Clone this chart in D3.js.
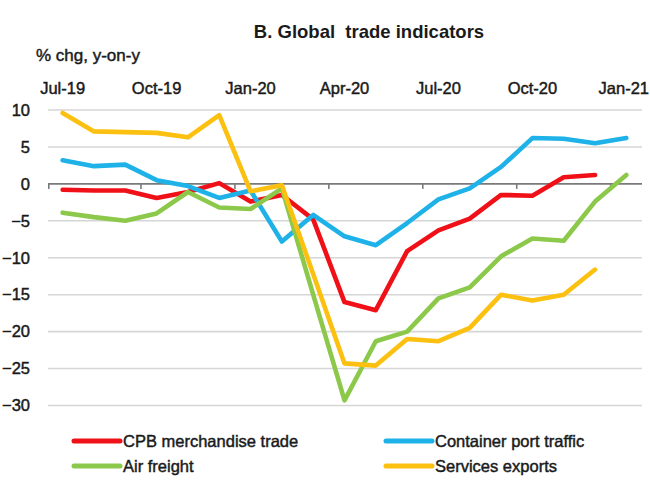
<!DOCTYPE html>
<html>
<head>
<meta charset="utf-8">
<script src="https://cdn.jsdelivr.net/npm/d3@7"></script>
<style>
  body { margin: 0; background: #fff; }
  text { font-family: "Liberation Sans", Arial, sans-serif; fill: #1a1a1a; }
</style>
</head>
<body>
<div id="chart"></div>
<script>
// months shown on the x axis (monthly data)
const months = ["Jul-19", "Aug-19", "Sep-19", "Oct-19", "Nov-19", "Dec-19", "Jan-20", "Feb-20", "Mar-20",
  "Apr-20", "May-20", "Jun-20", "Jul-20", "Aug-20", "Sep-20", "Oct-20", "Nov-20", "Dec-20", "Jan-21"];
const monthLabels = ["Jul-19", "Oct-19", "Jan-20", "Apr-20", "Jul-20", "Oct-20", "Jan-21"];
const yTicks = [10, 5, 0, -5, -10, -15, -20, -25, -30];

// % chg, y-on-y (null = no data yet)
const cpbTrade = [-0.8, -0.9, -0.9, -1.9, -1.1, 0.1, -2.4, -1.5, -4.8, -16.0, -17.1, -9.1, -6.3, -4.7, -1.5, -1.6, 0.9, 1.2, null];
const portTraffic = [3.2, 2.4, 2.6, 0.5, -0.3, -1.9, -0.9, -7.8, -4.2, -7.1, -8.3, -5.3, -2.1, -0.6, 2.3, 6.2, 6.1, 5.5, 6.2];
const airFreight = [-3.9, -4.5, -5.0, -4.0, -1.1, -3.2, -3.4, -0.6, -15.0, -29.3, -21.3, -20.0, -15.5, -14.0, -9.8, -7.4, -7.7, -2.4, 1.2];
const servicesExports = [9.6, 7.1, 7.0, 6.9, 6.3, 9.3, -1.0, -0.2, -12.2, -24.3, -24.6, -21.0, -21.3, -19.5, -15.0, -15.8, -15.0, -11.6, null];

const seriesNames = ["CPB merchandise trade", "Container port traffic", "Air freight", "Services exports"];
const seriesValues = [cpbTrade, portTraffic, airFreight, servicesExports];
const seriesColors = ["#f01018", "#1eb2e8", "#8cc84a", "#fcc010"];

const width = 650, height = 499;
const margin = { top: 110, right: 8, bottom: 93.5, left: 48 };

const svg = d3.select("#chart").append("svg")
  .attr("width", width)
  .attr("height", height);

const x = d3.scaleBand()
  .domain(months)
  .range([margin.left - 1, width - margin.right]);

const y = d3.scaleLinear()
  .domain([-30, 10])
  .range([height - margin.bottom, margin.top]);

// title and unit label
svg.append("text")
  .attr("x", 369)
  .attr("y", 37.5)
  .attr("text-anchor", "middle")
  .style("font-size", "18.5px")
  .style("font-weight", "bold")
  .attr("xml:space", "preserve")
  .text("B. Global  trade indicators");

svg.append("text")
  .attr("x", 36)
  .attr("y", 60.5)
  .style("font-size", "17px")
  .style("stroke", "#1a1a1a")
  .style("stroke-width", "0.45px")
  .text("% chg, y-on-y");

// gridlines
svg.append("g")
  .selectAll("line")
  .data(yTicks.filter(d => d !== 0))
  .enter()
  .append("line")
  .attr("x1", margin.left)
  .attr("x2", width - margin.right)
  .attr("y1", d => y(d))
  .attr("y2", d => y(d))
  .attr("stroke", "#d6d6d6")
  .attr("stroke-width", 1.6);

// zero line with quarterly tick marks
svg.append("line")
  .attr("x1", margin.left)
  .attr("x2", width - margin.right)
  .attr("y1", y(0))
  .attr("y2", y(0))
  .attr("stroke", "#7a7a7a")
  .attr("stroke-width", 1.6);

svg.append("g")
  .selectAll("line")
  .data(monthLabels)
  .enter()
  .append("line")
  .attr("x1", d => Math.max(x(d), margin.left + 0.8))
  .attr("x2", d => Math.max(x(d), margin.left + 0.8))
  .attr("y1", y(0))
  .attr("y2", y(0) + 5)
  .attr("stroke", "#7a7a7a")
  .attr("stroke-width", 1.6);

// y axis labels
const yAxis = svg.append("g")
  .attr("transform", `translate(${margin.left},0)`)
  .call(d3.axisLeft(y).tickValues(yTicks).tickSize(0).tickPadding(18).tickFormat(d3.format("d")));
yAxis.select(".domain").remove();
yAxis.selectAll("text")
  .style("font-family", "'Liberation Sans', Arial, sans-serif")
  .style("font-size", "16.5px")
  .style("fill", "#1a1a1a")
  .style("stroke", "#1a1a1a")
  .style("stroke-width", "0.45px");

// month labels above the plot
const xAxis = svg.append("g")
  .attr("transform", "translate(0,94)")
  .call(d3.axisTop(x).tickValues(monthLabels).tickSize(0).tickPadding(0));
xAxis.select(".domain").remove();
xAxis.selectAll("text")
  .style("font-family", "'Liberation Sans', Arial, sans-serif")
  .style("font-size", "16.5px")
  .style("fill", "#1a1a1a")
  .style("stroke", "#1a1a1a")
  .style("stroke-width", "0.45px");
// last label sits against the right edge, keep it inside
xAxis.selectAll(".tick")
  .filter(d => d === "Jan-21")
  .select("text")
  .attr("text-anchor", "end")
  .attr("x", width - 1 - (x("Jan-21") + x.bandwidth() / 2));

// series lines
const line = d3.line()
  .defined(d => d.v !== null)
  .x(d => x(d.m) + x.bandwidth() / 2)
  .y(d => y(d.v));

seriesValues.forEach((vals, i) => {
  svg.append("path")
    .datum(months.map((m, j) => ({ m: m, v: vals[j] })))
    .attr("fill", "none")
    .attr("stroke", seriesColors[i])
    .attr("stroke-width", 4.6)
    .attr("stroke-linejoin", "round")
    .attr("stroke-linecap", "round")
    .attr("d", line);
});

// legend
const legendPos = [[74, 441], [386, 441], [74, 466], [386, 466]];
const legend = svg.append("g")
  .selectAll("g")
  .data(seriesNames)
  .enter()
  .append("g")
  .attr("transform", (d, i) => `translate(${legendPos[i][0]},${legendPos[i][1]})`);

legend.append("line")
  .attr("x1", 0)
  .attr("x2", 46)
  .attr("stroke", (d, i) => seriesColors[i])
  .attr("stroke-width", 5)
  .attr("stroke-linecap", "round");

legend.append("text")
  .attr("x", 49)
  .attr("dy", "0.36em")
  .style("font-size", "16.5px")
  .style("stroke", "#1a1a1a")
  .style("stroke-width", "0.45px")
  .text(d => d);
</script>
</body>
</html>
